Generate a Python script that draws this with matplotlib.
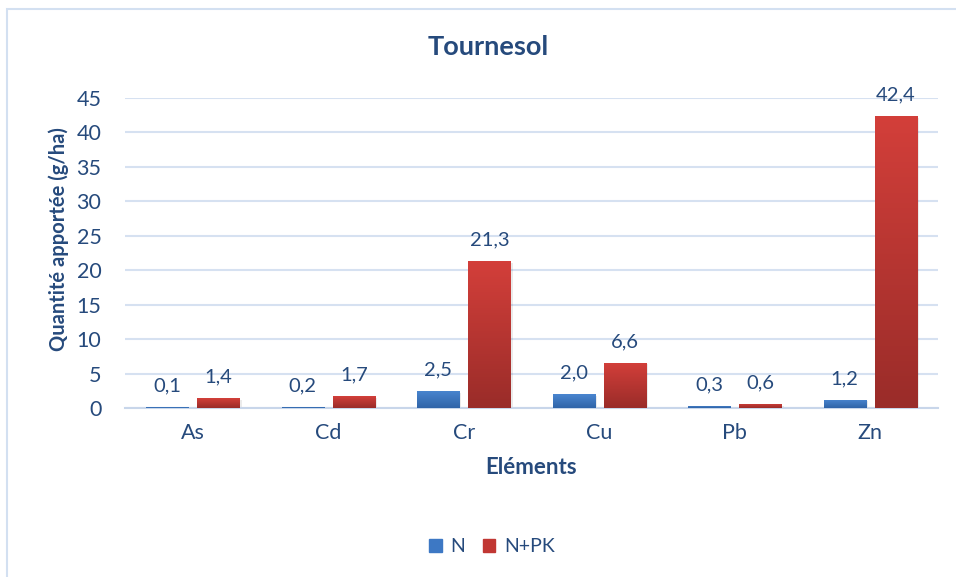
import matplotlib.pyplot as plt
import matplotlib.colors as mcolors
from matplotlib.patches import Rectangle, Patch
import numpy as np

# donnees
elements = ['As', 'Cd', 'Cr', 'Cu', 'Pb', 'Zn']
n_vals = [0.1, 0.2, 2.5, 2.0, 0.3, 1.2]
npk_vals = [1.4, 1.7, 21.3, 6.6, 0.6, 42.4]
yticks = [0, 5, 10, 15, 20, 25, 30, 35, 40, 45]

txt = '#264a7c'
grid = '#d6e1f1'
plt.rcParams['font.family'] = ['Lato', 'DejaVu Sans']

fig = plt.figure(figsize=(9.56, 5.77), dpi=100)
# cadre du graphique (bords droit/bas hors image)
fig.patches.append(Rectangle((7 / 956, -0.1), 1.2, 1 - 9 / 577 + 0.1, transform=fig.transFigure,
                             fill=False, edgecolor='#d3e0f1', lw=1.5))
ax = fig.add_axes([125 / 956, 1 - 408 / 577, 813 / 956, 310 / 577])

x = np.arange(len(elements))
w = 0.31
off = 0.19


def bar_grad(xs, vals, top, bottom):
    bars = ax.bar(xs, vals, w, color=top, zorder=3)
    cmap = mcolors.LinearSegmentedColormap.from_list('g', [bottom, top])
    grad = np.linspace(0, 1, 100).reshape(-1, 1)
    for b in bars:
        bx, by = b.get_x(), b.get_y()
        im = ax.imshow(grad, cmap=cmap, origin='lower', aspect='auto', zorder=4,
                       extent=[bx, bx + b.get_width(), by, by + b.get_height()])
        im.set_clip_path(b)
        # petite ombre
        ax.add_patch(Rectangle((bx + 0.015, by - 0.25), b.get_width(), b.get_height(),
                               color='#000000', alpha=0.08, lw=0, zorder=2))
    return bars


b1 = bar_grad(x - off, n_vals, '#4a86d0', '#2f64a8')
b2 = bar_grad(x + off, npk_vals, '#d33f3a', '#9a2c29')

for xs, vals in [(x - off, n_vals), (x + off, npk_vals)]:
    for xi, v in zip(xs, vals):
        ax.annotate(f'{v:.1f}'.replace('.', ','), (xi, v), xytext=(0, 9), textcoords='offset points',
                    ha='center', va='bottom', fontsize=14.5, color=txt)

ax.set_xlim(-0.5, len(elements) - 0.5)
ax.set_ylim(0, 45)
ax.set_yticks(yticks)
ax.set_xticks(x)
ax.set_xticklabels(elements)
ax.tick_params(length=0, labelsize=15.5, labelcolor=txt)
ax.tick_params(axis='y', pad=17)
ax.tick_params(axis='x', pad=11)
ax.grid(axis='y', color=grid, lw=1.5, zorder=0)
ax.set_axisbelow(True)
for s in ['top', 'right', 'left']:
    ax.spines[s].set_visible(False)
ax.spines['bottom'].set_color('#c8d6ea')
ax.spines['bottom'].set_linewidth(1.5)

ax.set_ylabel('Quantité apportée (g/ha)', fontsize=14.5, fontweight='bold', color=txt)
ax.yaxis.set_label_coords(-0.069, 0.545)
ax.set_xlabel('Eléments', fontsize=16, fontweight='bold', color=txt, labelpad=10)
fig.text(488 / 956, 1 - 47 / 577, 'Tournesol', ha='center', va='center',
         fontsize=19.5, fontweight='bold', color=txt)

handles = [Patch(color='#3d78c4', label='N'), Patch(color='#c13733', label='N+PK')]
fig.legend(handles=handles, loc='center', bbox_to_anchor=(492 / 956, 1 - 547 / 577), ncol=2,
           frameon=False, fontsize=14, labelcolor=txt, handlelength=0.65, handleheight=0.65,
           handletextpad=0.45, columnspacing=0.9)

fig.savefig('out.png', dpi=100)
